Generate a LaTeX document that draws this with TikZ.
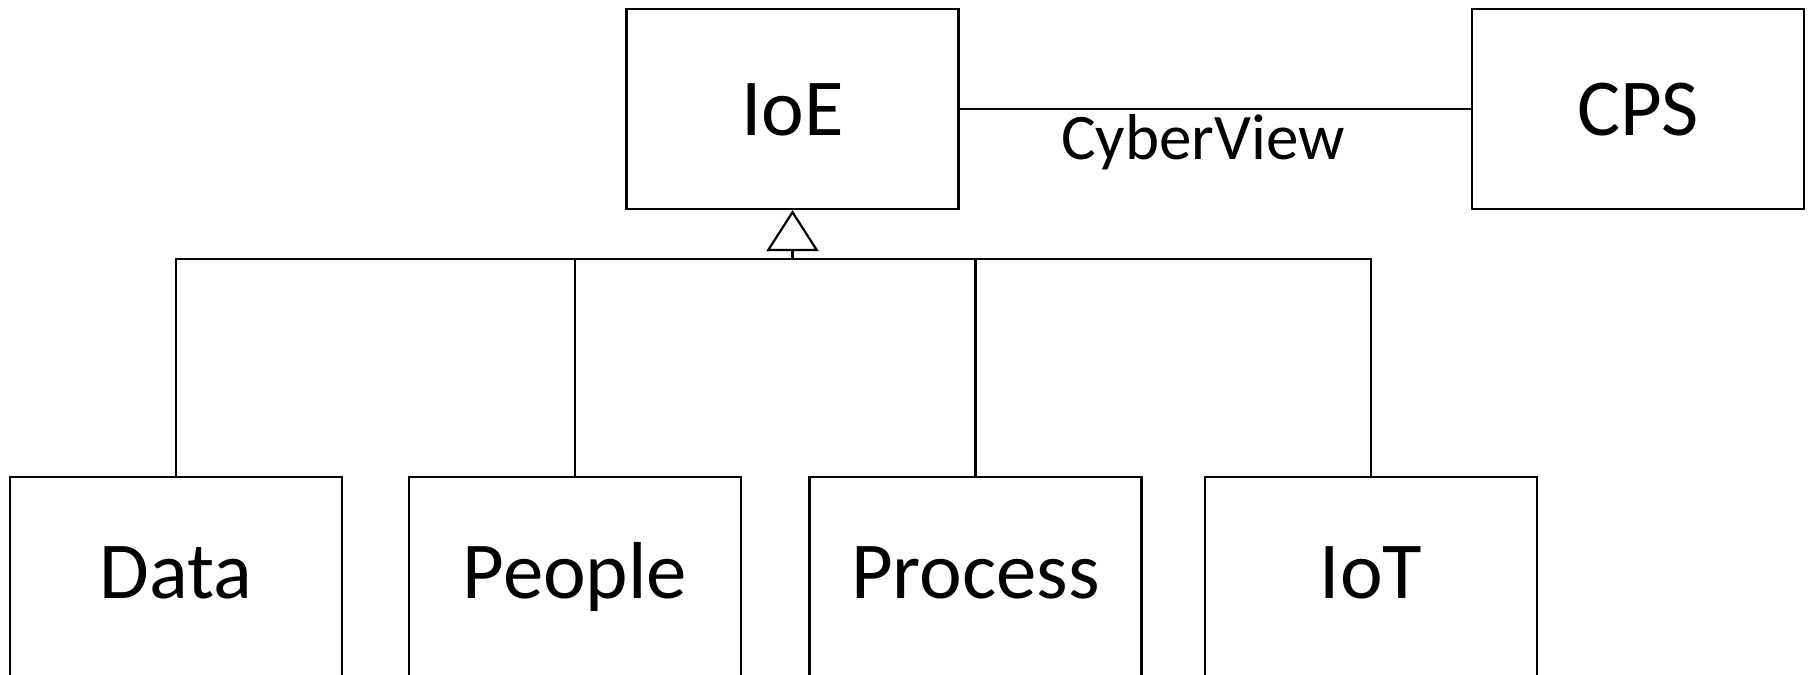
\documentclass[tikz,border=0pt]{standalone}
\usepackage{fontspec}
\setmainfont{Carlito}
\usetikzlibrary{arrows.meta}
\tikzset{
  classbox/.style={draw, line width=0.022cm, minimum width=3.32cm, minimum height=2.00cm,
    inner sep=0pt, text height=0.53cm, text depth=0pt, font=\fontsize{23pt}{27pt}\selectfont},
  subbox/.style={classbox, text height=0.42cm},
  link/.style={line width=0.022cm},
  inherit/.style={line width=0.022cm, -{Triangle[open, length=0.41cm, width=0.52cm]}}
}
\begin{document}
\begin{tikzpicture}
  \useasboundingbox (0.000000,0.000000) rectangle (18.090000,6.740000);

  % Drawing class IoE
  \node [classbox] (IoE) at (7.925000,5.650000) {IoE};%

  % Drawing class CPS
  \node [classbox] (CPS) at (16.380000,5.650000) {CPS};%

  % Drawing class Data
  \node [subbox] (Data) at (1.760000,0.970000) {Data};%

  % Drawing class People
  \node [subbox] (People) at (5.750000,0.970000) {People};%

  % Drawing class Process
  \node [subbox] (Process) at (9.755000,0.970000) {Process};%

  % Drawing class IoT
  \node [subbox] (IoT) at (13.710000,0.970000) {IoT};%

  % Marking point hub
  \coordinate (hub) at (7.925000,4.150000);%

  % Drawing association IoE CPS
  \draw [link] (IoE.east) -- node [pos=0.476, anchor=base, yshift=-0.50cm,
    font=\fontsize{18.5pt}{22pt}\selectfont] (view) {CyberView} (CPS.west);%

  % Drawing generalization hub IoE
  \draw [inherit] (hub) -- (IoE.south);%

  % Drawing segment Data IoT
  \draw [link] (Data.north) -- (Data.north |- hub) -- (IoT.north |- hub) -- (IoT.north);%

  % Drawing segment People hub
  \draw [link] (People.north) -- (People.north |- hub);%

  % Drawing segment Process hub
  \draw [link] (Process.north) -- (Process.north |- hub);%
\end{tikzpicture}
\end{document}
